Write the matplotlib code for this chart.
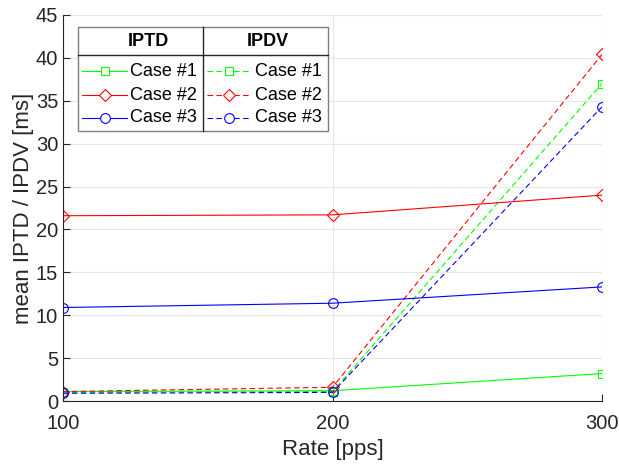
import numpy as np
import matplotlib
matplotlib.use("Agg")
import matplotlib.pyplot as plt
from matplotlib.lines import Line2D
from matplotlib.patches import Rectangle

plt.rcParams['font.family'] = ['Liberation Sans', 'DejaVu Sans']

# data
rate = [100, 200, 300]
cases = ['Case #1', 'Case #2', 'Case #3']
iptd = [[1.1, 1.2, 3.2],
        [21.6, 21.7, 24.0],
        [10.9, 11.4, 13.3]]
ipdv = [[1.0, 1.1, 37.0],
        [1.1, 1.6, 40.4],
        [0.9, 1.0, 34.3]]
colors = ['#00ff00', '#ff0000', '#0000ff']
markers = ['s', 'D', 'o']
msizes = [6, 6, 7]

W, H = 619, 465
fig = plt.figure(figsize=(W / 100, H / 100), dpi=100)
ax = fig.add_axes([63 / W, 64 / H, (602 - 63) / W, (401 - 15) / H])

for i in range(3):
    ax.plot(rate, iptd[i], '-', color=colors[i], marker=markers[i], ms=msizes[i],
            mfc='none', mew=0.8, lw=0.8)
    ax.plot(rate, ipdv[i], '--', color=colors[i], marker=markers[i], ms=msizes[i],
            mfc='none', mew=0.8, lw=0.8, dashes=(5, 3))

dark = '#262626'
ax.set_xlim(100, 300)
ax.set_ylim(0, 45)
ax.set_xticks(rate)
ax.set_yticks(np.arange(0, 46, 5))
ax.grid(True, color='#e6e6e6', lw=0.8)
ax.set_axisbelow(True)
for s in ['top', 'right']:
    ax.spines[s].set_visible(False)
for s in ['left', 'bottom']:
    ax.spines[s].set_color(dark)
    ax.spines[s].set_linewidth(0.8)
ax.tick_params(direction='in', length=5, colors=dark, labelsize=14.5, width=0.8)
ax.tick_params(axis='x', pad=9)
ax.set_xlabel('Rate [pps]', fontsize=16, color=dark, labelpad=5)
ax.set_ylabel('mean IPTD / IPDV [ms]', fontsize=16, color=dark, labelpad=1)

# table-style legend drawn in pixel units
def px(x, y):
    return x / W, 1 - y / H

bx0, bx1, by0, by1 = 77.5, 328, 27.5, 131
fig.add_artist(Rectangle(px(bx0, by1), (bx1 - bx0) / W, (by1 - by0) / H,
                         transform=fig.transFigure, facecolor='white',
                         edgecolor='#7f7f7f', lw=1.0, zorder=5))
fig.add_artist(Line2D([bx0 / W, bx1 / W], [1 - 55 / H] * 2, color=dark, lw=1.0,
                      transform=fig.transFigure, zorder=6))
fig.add_artist(Line2D([203 / W] * 2, [1 - by0 / H, 1 - by1 / H], color=dark, lw=1.0,
                      transform=fig.transFigure, zorder=6))
fig.text(*px(148, 42), 'IPTD', ha='center', va='center', fontsize=13,
         fontweight='bold', color='black', zorder=7)
fig.text(*px(268, 42), 'IPDV', ha='center', va='center', fontsize=13,
         fontweight='bold', color='black', zorder=7)

rows_y = [71, 95, 118]
for i in range(3):
    for (x0, x1, tx, ls) in [(82, 127, 130, '-'), (207, 250, 255, '--')]:
        y = 1 - rows_y[i] / H
        ln = Line2D([x0 / W, x1 / W], [y, y], color=colors[i], lw=0.8, ls=ls,
                    transform=fig.transFigure, zorder=7)
        if ls == '--':
            ln.set_dashes((5, 3))
        fig.add_artist(ln)
        fig.add_artist(Line2D([(x0 + x1) / 2 / W], [y], color=colors[i],
                              marker=markers[i], ms=msizes[i], mfc='white', mew=0.8,
                              ls='none', transform=fig.transFigure, zorder=8))
        fig.text(tx / W, y, cases[i], ha='left', va='center', fontsize=13,
                 color='black', zorder=7)

fig.savefig('out.png', dpi=100)
